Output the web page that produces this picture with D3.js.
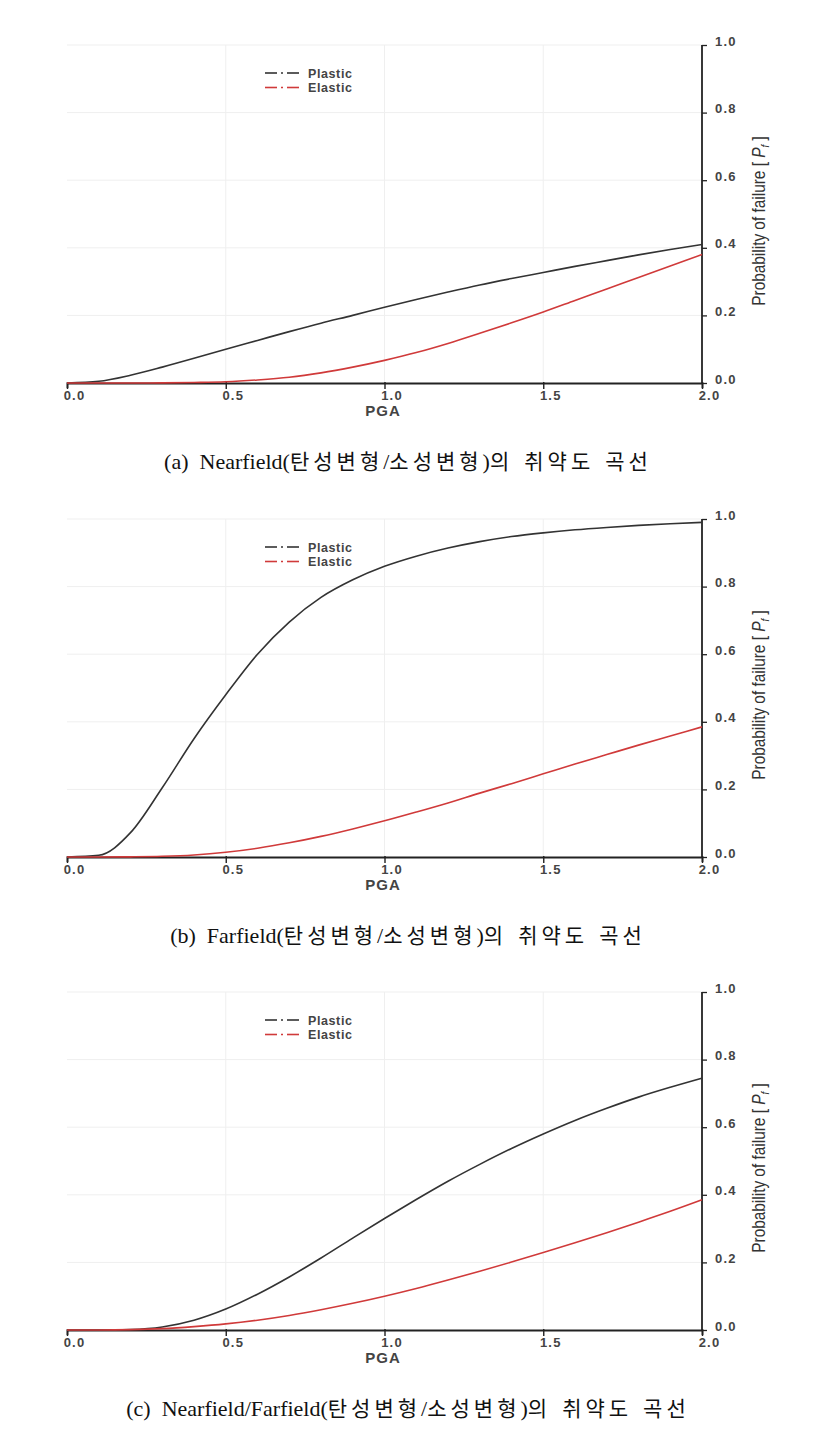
<!DOCTYPE html>
<html>
<head>
<meta charset="utf-8">
<script src="https://cdn.jsdelivr.net/npm/d3@7"></script>
<style>
  html, body { margin: 0; padding: 0; background: #fff; }
  svg { display: block; }
</style>
</head>
<body>
<script>
// ---------- DATA ----------
const pga = [0.0,0.1,0.2,0.3,0.4,0.5,0.6,0.7,0.8,0.9,1.0,1.1,1.2,1.3,1.4,1.5,1.6,1.7,1.8,1.9,2.0];
const xTicks = [0.0, 0.5, 1.0, 1.5, 2.0];
const yTicks = [0.0, 0.2, 0.4, 0.6, 0.8, 1.0];
const seriesNames = ["Plastic", "Elastic"];

// (a) Nearfield
const nearPlastic = [0,0.005,0.023,0.047,0.073,0.1,0.126,0.152,0.177,0.2,0.224,0.247,0.269,0.29,0.309,0.327,0.345,0.362,0.379,0.395,0.41];
const nearElastic = [0,0,0,0.0005,0.0015,0.0035,0.009,0.017,0.03,0.047,0.067,0.09,0.117,0.147,0.178,0.21,0.244,0.278,0.312,0.346,0.38];
// (b) Farfield
const farPlastic = [0,0.005,0.072,0.205,0.35,0.48,0.6,0.695,0.768,0.82,0.86,0.89,0.914,0.933,0.948,0.959,0.968,0.975,0.981,0.986,0.99];
const farElastic = [0,0,0.0005,0.002,0.006,0.014,0.026,0.042,0.061,0.083,0.107,0.133,0.16,0.189,0.217,0.246,0.275,0.303,0.331,0.358,0.385];
// (c) Nearfield/Farfield
const combPlastic = [0,0,0.0015,0.009,0.029,0.062,0.106,0.157,0.213,0.272,0.33,0.386,0.44,0.49,0.537,0.58,0.62,0.656,0.689,0.718,0.745];
const combElastic = [0,0,0.001,0.004,0.01,0.018,0.029,0.043,0.06,0.079,0.1,0.123,0.148,0.174,0.201,0.229,0.258,0.288,0.319,0.351,0.385];

const captions = [
  "(a)  Nearfield(탄성변형/소성변형)의  취약도  곡선",
  "(b)  Farfield(탄성변형/소성변형)의  취약도  곡선",
  "(c)  Nearfield/Farfield(탄성변형/소성변형)의  취약도  곡선"
];

// ---------- DRAW ----------
const W = 816, H = 1430;
const svg = d3.select("body").append("svg").attr("width", W).attr("height", H);

const panels = [
  { base: 383, plastic: nearPlastic, elastic: nearElastic, caption: captions[0] },
  { base: 857, plastic: farPlastic, elastic: farElastic, caption: captions[1] },
  { base: 1330, plastic: combPlastic, elastic: combElastic, caption: captions[2] }
];

const colors = { Plastic: "#333333", Elastic: "#d03a3a" };
const sansFont = "'Liberation Sans', Arial, sans-serif";

panels.forEach(p => {
  const x = d3.scaleLinear().domain([0, 2]).range([67, 702]);
  const y = d3.scaleLinear().domain([0, 1]).range([p.base, p.base - 338]);
  const g = svg.append("g");

  // grid
  g.append("g").selectAll("line").data(yTicks.slice(1)).join("line")
    .attr("x1", x(0)).attr("x2", x(2))
    .attr("y1", d => y(d)).attr("y2", d => y(d))
    .attr("stroke", "#efefef").attr("stroke-width", 1);
  g.append("g").selectAll("line").data(xTicks.slice(1, -1)).join("line")
    .attr("x1", d => x(d)).attr("x2", d => x(d))
    .attr("y1", y(0)).attr("y2", y(1))
    .attr("stroke", "#efefef").attr("stroke-width", 1);

  // x axis
  const xAxis = d3.axisBottom(x).tickValues(xTicks).tickFormat(d3.format(".1f")).tickSize(5).tickPadding(3);
  const xg = g.append("g").attr("transform", `translate(0,${p.base})`).call(xAxis);
  xg.select(".domain").attr("stroke", "#222").attr("stroke-width", 1.8);
  xg.selectAll(".tick line").attr("stroke", "#222").attr("stroke-width", 1.4).attr("y1", -1).attr("y2", 6);
  xg.selectAll(".tick text").attr("font-family", sansFont).attr("font-size", 13)
    .attr("fill", "#444").attr("letter-spacing", "1.2px").attr("font-weight", "bold")
    .attr("dx", 7);

  // right y axis
  const yAxis = d3.axisRight(y).tickValues(yTicks).tickFormat(d3.format(".1f")).tickSize(5).tickPadding(8);
  const yg = g.append("g").attr("transform", `translate(${x(2)},0)`).call(yAxis);
  yg.select(".domain").attr("stroke", "#222").attr("stroke-width", 1.8).attr("d", `M0,${y(1)}V${y(0)}`);
  yg.selectAll(".tick line").attr("stroke", "#222").attr("stroke-width", 1.3);
  yg.selectAll(".tick text").attr("font-family", sansFont).attr("font-size", 13)
    .attr("fill", "#444").attr("letter-spacing", "1.2px").attr("font-weight", "bold")
    .attr("dy", "0.32em").attr("y", -4);

  // curves
  const line = d3.line().x((d, i) => x(pga[i])).y(d => y(d)).curve(d3.curveMonotoneX);
  g.append("path").datum(p.plastic).attr("d", line)
    .attr("fill", "none").attr("stroke", colors.Plastic).attr("stroke-width", 1.6);
  g.append("path").datum(p.elastic).attr("d", line)
    .attr("fill", "none").attr("stroke", colors.Elastic).attr("stroke-width", 1.6);

  // legend
  seriesNames.forEach((name, i) => {
    const ly = p.base - 310 + i * 14.5;
    const lg = g.append("g");
    lg.append("line").attr("x1", 265).attr("x2", 277).attr("y1", ly).attr("y2", ly)
      .attr("stroke", colors[name]).attr("stroke-width", 1.6);
    lg.append("line").attr("x1", 281).attr("x2", 283).attr("y1", ly).attr("y2", ly)
      .attr("stroke", colors[name]).attr("stroke-width", 1.6);
    lg.append("line").attr("x1", 287).attr("x2", 299).attr("y1", ly).attr("y2", ly)
      .attr("stroke", colors[name]).attr("stroke-width", 1.6);
    lg.append("text").attr("x", 308).attr("y", ly + 4.5).text(name)
      .attr("font-family", sansFont).attr("font-size", 12.5).attr("font-weight", "bold")
      .attr("fill", "#444").attr("letter-spacing", "0.6px");
  });

  // x label
  g.append("text").attr("x", 383).attr("y", p.base + 33).attr("text-anchor", "middle")
    .attr("font-family", sansFont).attr("font-size", 15).attr("font-weight", "bold")
    .attr("fill", "#444").attr("letter-spacing", "1px").text("PGA");

  // y label
  const yl = g.append("text")
    .attr("transform", `translate(765,${p.base - 162}) rotate(-90) scale(0.88,1)`)
    .attr("text-anchor", "middle")
    .attr("font-family", sansFont).attr("font-size", 17.5).attr("fill", "#333");
  yl.append("tspan").text("Probability of failure [ ");
  yl.append("tspan").attr("font-style", "italic").text("P");
  yl.append("tspan").attr("font-size", 11).attr("dy", 4).attr("font-style", "italic").text("f");
  yl.append("tspan").attr("dy", -4).text(" ]");

  // caption: Latin in serif, Hangul runs spaced out
  const cap = g.append("text").attr("x", 408).attr("y", p.base + 86).attr("text-anchor", "middle")
    .attr("font-family", "'Liberation Serif', 'Noto Sans CJK KR', serif")
    .attr("font-size", 22).attr("fill", "#111").style("white-space", "pre");
  const runs = p.caption.match(/[\uAC00-\uD7A3]+|[^\uAC00-\uD7A3]+/g);
  runs.forEach(r => {
    const isKo = /[\uAC00-\uD7A3]/.test(r);
    cap.append("tspan").text(r)
      .attr("font-family", isKo ? "'Noto Sans CJK KR', sans-serif" : null)
      .attr("font-size", isKo ? 21 : null)
      .attr("letter-spacing", isKo ? "4px" : "0px");
  });
});
</script>
</body>
</html>
